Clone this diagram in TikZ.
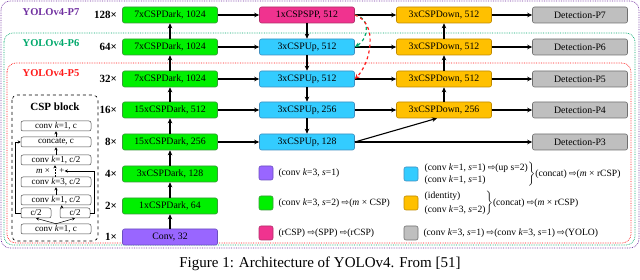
\documentclass[tikz,border=0pt]{standalone}
\usepackage{fontspec}
\setmainfont{Liberation Serif}
\newfontfamily\symf{DejaVu Sans}
\usepackage{tikz}
\usetikzlibrary{arrows.meta,positioning}
\definecolor{grnc}{HTML}{00F000}
\definecolor{grnd}{HTML}{3A9A3A}
\definecolor{pnkc}{HTML}{F0338F}
\definecolor{pnkd}{HTML}{B0306A}
\definecolor{bluc}{HTML}{33CCFF}
\definecolor{blud}{HTML}{3F8FC0}
\definecolor{orgc}{HTML}{FFC000}
\definecolor{orgd}{HTML}{C08A00}
\definecolor{gryc}{HTML}{BFBFBF}
\definecolor{gryd}{HTML}{707070}
\definecolor{purc}{HTML}{9966FF}
\definecolor{purd}{HTML}{6B4FC0}
\definecolor{pseven}{HTML}{7030A0}
\definecolor{psix}{HTML}{00A86B}
\definecolor{pfive}{HTML}{FF1A1A}
\newcommand{\oarr}{{\symf\fontsize{9}{9}\selectfont ⇨}}
\tikzset{
  ar/.style={-{Stealth[length=5pt,width=4.5pt]},line width=1.1pt},
  arc/.style={-{Stealth[length=3pt,width=3pt]},line width=0.5pt},
  blk/.style={rectangle,rounded corners=2pt,minimum width=95pt,minimum height=16pt,inner sep=0pt,font=\fontsize{9.8}{10}\selectfont,line width=0.6pt},
  dk/.style={blk,fill=grnc,draw=grnd},
  up/.style={blk,fill=bluc,draw=blud},
  dn/.style={blk,fill=orgc,draw=orgd},
  det/.style={blk,fill=gryc,draw=gryd},
  sc/.style={font=\bfseries\fontsize{11}{11}\selectfont,inner sep=1pt},
  ttl/.style={font=\bfseries\fontsize{10.5}{11}\selectfont,inner sep=1pt},
  frm/.style={densely dotted,line width=0.7pt,rounded corners=9pt},
  cb/.style={rectangle,rounded corners=2pt,draw=black!70,fill=white,minimum width=70pt,minimum height=10pt,inner sep=0pt,font=\fontsize{9}{9}\selectfont,line width=0.5pt},
  cbs/.style={cb,minimum width=30pt},
  lg/.style={rectangle,rounded corners=2pt,minimum size=14pt,inner sep=0pt,line width=0.6pt},
  lt/.style={font=\fontsize{9.6}{12}\selectfont,inner sep=1pt,anchor=west}
}
\begin{document}
\begin{tikzpicture}[x=1pt,y=-1pt]
\useasboundingbox (0,0) rectangle (640,280);
% nested model frames
\draw[frm,pseven] (1,1) rectangle (639,248);
\draw[frm,psix] (4,33) rectangle (635,245);
\draw[frm,pfive] (7,63) rectangle (631,243);
\node[ttl,text=pseven] (l7) at (51,12) {YOLOv4-P7};
\node[ttl,text=psix] (l6) at (51,43) {YOLOv4-P6};
\node[ttl,text=pfive] (l5) at (51,73) {YOLOv4-P5};
% backbone
\node[blk,fill=purc,draw=purd] (c1) at (170,237) {Conv, 32};
\node[dk] (c2) at (170,206) {1xCSPDark, 64};
\node[dk] (c4) at (170,174) {3xCSPDark, 128};
\node[dk] (c8) at (170,142) {15xCSPDark, 256};
\node[dk] (c16) at (170,110) {15xCSPDark, 512};
\node[dk] (c32) at (170,79) {7xCSPDark, 1024};
\node[dk] (c64) at (170,47) {7xCSPDark, 1024};
\node[dk] (c128) at (170,15) {7xCSPDark, 1024};
\foreach \n/\t in {c1/1×,c2/2×,c4/4×,c8/8×,c16/16×,c32/32×,c64/64×,c128/128×}
  \node[sc,left=4pt of \n] {\t};
% neck
\node[blk,fill=pnkc,draw=pnkd] (spp) at (307,15) {1xCSPSPP, 512};
\node[up] (up6) at (307,47) {3xCSPUp, 512};
\node[up] (up5) at (307,79) {3xCSPUp, 512};
\node[up] (up4) at (307,110) {3xCSPUp, 256};
\node[up] (up3) at (307,142) {3xCSPUp, 128};
\node[dn] (dn7) at (444,15) {3xCSPDown, 512};
\node[dn] (dn6) at (444,47) {3xCSPDown, 512};
\node[dn] (dn5) at (444,79) {3xCSPDown, 512};
\node[dn] (dn4) at (444,110) {3xCSPDown, 256};
% heads
\node[det] (det7) at (580,15) {Detection-P7};
\node[det] (det6) at (580,47) {Detection-P6};
\node[det] (det5) at (580,79) {Detection-P5};
\node[det] (det4) at (580,110) {Detection-P4};
\node[det] (det3) at (580,142) {Detection-P3};
\foreach \a/\b in {c1/c2,c2/c4,c4/c8,c8/c16,c16/c32,c32/c64,c64/c128,dn4/dn5,dn5/dn6,dn6/dn7,spp/up6,up6/up5,up5/up4,up4/up3}
  \draw[ar,line width=1.3pt] (\a) -- (\b);
\foreach \a/\b in {c128/spp,c64/up6,c32/up5,c16/up4,c8/up3,spp/dn7,up6/dn6,up5/dn5,up4/dn4,dn7/det7,dn6/det6,dn5/det5,dn4/det4,up3/det3}
  \draw[ar] (\a) -- (\b);
\draw[ar] (up3.east) -- ([xshift=-7pt]dn4.south);
\draw[dashed,psix,line width=1.2pt,-{Stealth[length=5pt,width=4.5pt]}] (spp.east) .. controls +(16,2) and +(14,-8) .. (up6.east);
\draw[dashed,pfive,line width=1.2pt,-{Stealth[length=5pt,width=4.5pt]}] (spp.east) .. controls +(24,8) and +(16,-16) .. (up5.east);
% CSP block
\draw[dashed,line width=0.6pt,rounded corners=5pt] (12,95) rectangle (98,241);
\node[font=\bfseries\fontsize{11}{11}\selectfont] (csp) at (55,107) {CSP block};
\node[cb] (b1) at (56,126) {conv \textit{k}=1, c};
\node[cb] (b2) at (56,142) {concate, c};
\node[cb] (b3) at (56,160) {conv \textit{k}=1, c/2};
\node[font=\fontsize{9}{9}\selectfont,inner sep=0pt] (mx) at (43,171) {\textit{m} ×};
\node[font=\fontsize{9}{9}\selectfont,inner sep=0pt] (pl) at (62,171) {+};
\node[cb] (b4) at (56,182) {conv \textit{k}=3, c/2};
\node[cb] (b5) at (56,200) {conv \textit{k}=1, c/2};
\node[cbs] (cl) at (36,213) {c/2};
\node[cbs] (cr) at (75,213) {c/2};
\node[cb] (b6) at (56,229) {conv \textit{k}=1, c};
\draw[arc] (b6.north) -- (cl.south);
\draw[arc] (b6.north) -- (cr.south);
\draw[arc] ([xshift=2pt]cr.north west) -- ([xshift=2pt]cr.north west |- b5.south);
\draw[arc] (b5) -- (b4);
\draw[arc,densely dotted,line width=0.9pt] ([xshift=-1pt]b4.north) -- ([xshift=-1pt]b3.south);
\draw[arc] (b3) -- (b2);
\draw[arc] (b2) -- (b1);
\draw[arc] (cr.east) -- ++(4,0) |- (pl.east);
\draw[arc] (cl.west) -- ++(-6,0) |- (b2.west);
% legend
\node[lg,fill=purc,draw=purd] (kp) at (266,173) {};
\node[lg,fill=grnc,draw=grnd] (kg) at (266,203) {};
\node[lg,fill=pnkc,draw=pnkd] (kk) at (266,233) {};
\node[lg,fill=bluc,draw=blud] (kb) at (411,174) {};
\node[lg,fill=orgc,draw=orgd] (ko) at (411,203) {};
\node[lg,fill=gryc,draw=gryd] (ky) at (411,233) {};
\node[lt,right=4pt of kp] (tp) {(conv \textit{k}=3, \textit{s}=1)};
\node[lt,right=4pt of kg] (tg) {(conv \textit{k}=3, \textit{s}=2) \oarr(\textit{m} × CSP)};
\node[lt,right=4pt of kk] (tk) {(rCSP) \oarr(SPP) \oarr(rCSP)};
\node[lt,right=4pt of kb] (tb) {$\left.\begin{tabular}{@{}l@{}}(conv \textit{k}=1, \textit{s}=1) \oarr(up s=2)\\(conv \textit{k}=1, \textit{s}=1)\end{tabular}\right\}$(concat) \oarr(\textit{m} × rCSP)};
\node[lt,right=4pt of ko] (to) {$\left.\begin{tabular}{@{}l@{}}(identity)\\[2pt](conv \textit{k}=3, \textit{s}=2)\end{tabular}\right\}$(concat) \oarr(\textit{m} × rCSP)};
\node[lt,right=4pt of ky] (ty) {(conv \textit{k}=3, \textit{s}=1) \oarr(conv \textit{k}=3, \textit{s}=1) \oarr(YOLO)};
\node[font=\fontsize{15}{15}\selectfont] (cap) at (320,264) {Figure 1: Architecture of YOLOv4. From [51]};
\end{tikzpicture}
\end{document}
